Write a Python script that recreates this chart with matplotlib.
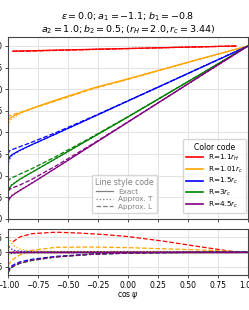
import matplotlib
matplotlib.use("Agg")
import matplotlib.pyplot as plt
from matplotlib.lines import Line2D
import numpy as np

# grid of cos(psi) values
cospsi = [-1.0, -0.99, -0.97, -0.94, -0.9, -0.8, -0.6, -0.3, 0.0, 0.3, 0.6, 1.0]
cospsi_red = [-0.96, -0.9, -0.8, -0.6, -0.4, -0.2, 0.0, 0.3, 0.6, 0.9]

# exact curves (upper panel)
exact_red = [-0.060, -0.058, -0.055, -0.048, -0.042, -0.035, -0.029, -0.019, -0.010, 0.0]
exact_orange = [-0.87, -0.845, -0.82, -0.80, -0.775, -0.72, -0.625, -0.49, -0.38, -0.265, -0.15, 0.0]
exact_blue = [-1.34, -1.29, -1.26, -1.235, -1.205, -1.14, -1.016, -0.826, -0.635, -0.445, -0.254, 0.0]
exact_green = [-1.70, -1.65, -1.61, -1.58, -1.54, -1.46, -1.30, -1.06, -0.82, -0.575, -0.33, 0.0]
exact_purple = [-1.81, -1.77, -1.735, -1.705, -1.67, -1.585, -1.41, -1.145, -0.88, -0.615, -0.35, 0.0]

# relative deviation of approximations (lower panel)
relT_red = [0.002, 0.001, 0.0, 0.0, 0.0, 0.0, 0.0, 0.0, 0.0, 0.0]
relL_red = [0.035, 0.052, 0.063, 0.068, 0.065, 0.060, 0.053, 0.037, 0.018, 0.0]
relT_orange = [0.062, 0.045, 0.030, 0.018, 0.010, 0.004, 0.001, 0.0, 0.0, 0.0, 0.0, 0.0]
relL_orange = [-0.045, -0.040, -0.030, -0.020, -0.010, 0.006, 0.016, 0.017, 0.015, 0.011, 0.007, 0.0]
relT_blue = [0.030, 0.018, 0.010, 0.005, 0.003, 0.001, 0.0, 0.0, 0.0, 0.0, 0.0, 0.0]
relL_blue = [-0.068, -0.058, -0.048, -0.041, -0.034, -0.025, -0.015, -0.007, -0.003, -0.002, -0.001, 0.0]
relT_green = [-0.012, -0.008, -0.005, -0.003, -0.002, -0.001, 0.0, 0.0, 0.0, 0.0, 0.0, 0.0]
relL_green = [-0.075, -0.064, -0.054, -0.046, -0.039, -0.029, -0.017, -0.008, -0.004, -0.002, -0.001, 0.0]
relT_purple = [-0.010, -0.007, -0.004, -0.003, -0.002, -0.001, 0.0, 0.0, 0.0, 0.0, 0.0, 0.0]
relL_purple = [-0.072, -0.062, -0.052, -0.045, -0.038, -0.028, -0.017, -0.008, -0.004, -0.002, -0.001, 0.0]

colors = ["red", "orange", "blue", "green", "purple"]
labels = [r"R=1.1$r_H$", r"R=1.01$r_c$", r"R=1.5$r_c$", r"R=3$r_c$", r"R=4.5$r_c$"]

series = [
    (cospsi_red, exact_red, relT_red, relL_red),
    (cospsi, exact_orange, relT_orange, relL_orange),
    (cospsi, exact_blue, relT_blue, relL_blue),
    (cospsi, exact_green, relT_green, relL_green),
    (cospsi, exact_purple, relT_purple, relL_purple),
]

fig = plt.figure(figsize=(2.49, 3.10), dpi=100)
ax = fig.add_axes([8 / 249, 1 - 219 / 310, 240 / 249, 182 / 310])
ax2 = fig.add_axes([8 / 249, 1 - 275 / 310, 240 / 249, 46 / 310])

for c, (x, ex, rt, rl) in zip(colors, series):
    x = np.array(x)
    ex = np.array(ex)
    apT = ex * (1 + np.array(rt))
    apL = ex * (1 + np.array(rl))
    ax.plot(x, ex, color=c, lw=0.9, ls="-")
    ax.plot(x, apT, color=c, lw=0.9, ls=":")
    ax.plot(x, apL, color=c, lw=0.9, ls="--")
    ax2.plot(x, np.zeros_like(x), color=c, lw=0.9, ls="-")
    ax2.plot(x, rt, color=c, lw=0.9, ls=":")
    ax2.plot(x, rl, color=c, lw=0.9, ls="--")

for a in (ax, ax2):
    a.set_xlim(-1, 1)
    a.set_xticks(np.arange(-1, 1.01, 0.25))
    a.grid(True, color="#e3e3e3", lw=0.7)
    a.set_axisbelow(True)
    a.tick_params(labelsize=5.5, length=2.5, pad=1.5, width=0.6, color="#333333")
    for s in a.spines.values():
        s.set_color("#444444")
        s.set_linewidth(0.8)

ax.set_ylim(-2.0, 0.104)
ax.set_yticks(np.arange(-2.0, 0.01, 0.25))
ax.tick_params(labelbottom=False)
ax2.set_ylim(-0.079, 0.079)
ax2.set_yticks([-0.05, 0.0, 0.05])
ax2.set_xlabel(r"$\cos\psi$", fontsize=5.5, labelpad=0)

ax.set_title(r"$\epsilon=0.0; a_1=-1.1; b_1=-0.8$" + "\n" +
             r"$a_2=1.0; b_2=0.5; (r_H=2.0, r_c=3.44)$", fontsize=6.8, pad=3,
             linespacing=1.1)

color_handles = [Line2D([], [], color=c, lw=1.2) for c in colors]
leg1 = ax.legend(color_handles, labels, title="Color code", loc="lower right",
                 bbox_to_anchor=(0.992, 0.033), borderaxespad=0, fontsize=5.2,
                 title_fontsize=5.6, handlelength=2.3, labelspacing=0.2,
                 borderpad=0.45, handletextpad=0.7)
ax.add_artist(leg1)

style_handles = [Line2D([], [], color="gray", lw=0.9, ls=s) for s in ["-", ":", "--"]]
leg2 = ax.legend(style_handles, ["Exact", "Approx. T", "Approx. L"], title="Line style code",
                 loc="lower right", bbox_to_anchor=(0.621, 0.033), borderaxespad=0,
                 fontsize=5.2, title_fontsize=5.6, handlelength=2.3, labelspacing=0.2,
                 borderpad=0.45, handletextpad=0.7, labelcolor="gray")
leg2.get_title().set_color("gray")

fig.savefig("out.png", dpi=100)
